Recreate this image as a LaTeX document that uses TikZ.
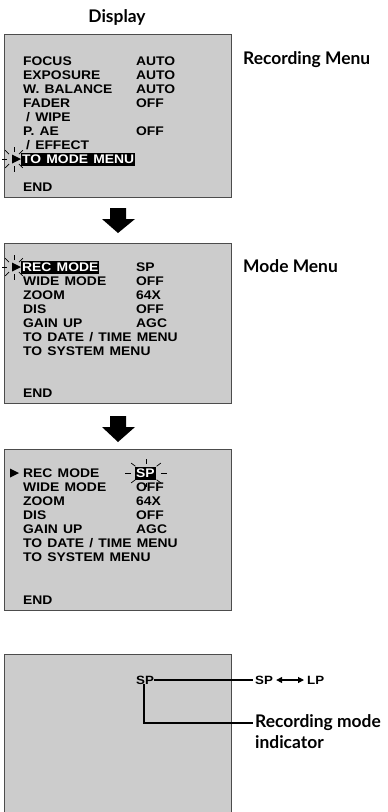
\documentclass[tikz,border=0pt]{standalone}
\usepackage{fontspec}
\setmainfont{Lato}
\newfontfamily\osdfont[FakeStretch=1.11,WordSpace=1.35]{Liberation Sans}
\usetikzlibrary{arrows.meta}
\tikzset{
  screen/.style={draw=black!70, fill=black!20, line width=1.3pt, anchor=north west,
    minimum width=227pt, inner sep=0pt},
  osd/.style={anchor=base west, inner sep=0pt, font=\osdfont\bfseries\fontsize{12.5}{14}\selectfont},
  hl/.style={osd, fill=black, text=white, inner xsep=1pt, inner ysep=2pt},
  ttl/.style={inner sep=0pt, font=\bfseries\fontsize{17.4}{20}\selectfont},
  blockarrow/.style={fill=black},
  ray/.style={draw=black, line width=0.7pt},
  lead/.style={draw=black, line width=1.2pt},
  cursor/.style={fill=black}
}
\begin{document}
\begin{tikzpicture}[x=1pt,y=-1pt]
\useasboundingbox (0,0) rectangle (388,812);
\clip (0,0) rectangle (388,812);

% titles
\node[ttl] (disp) at (117,17) {Display};
\node[ttl, anchor=west] (recmenu) at (243,60) {Recording Menu};
\node[ttl, anchor=west] (modemenu) at (243,266) {Mode Menu};

% ---------- screen 1
\node[screen, minimum height=163pt] (b1) at (4,34) {};
\node[osd] (f1) at (23,65.5) {FOCUS};       \node[osd] (v1) at (136,65.5) {AUTO};
\node[osd] (f2) at (23,79.5) {EXPOSURE};    \node[osd] (v2) at (136,79.5) {AUTO};
\node[osd] (f3) at (23,93.5) {W. BALANCE};  \node[osd] (v3) at (136,93.5) {AUTO};
\node[osd] (f4) at (23,107.5) {FADER};      \node[osd] (v4) at (136,107.5) {OFF};
\node[osd] (f5) at (26,121.5) {/ WIPE};
\node[osd] (f6) at (23,135.5) {P. AE};      \node[osd] (v6) at (136,135.5) {OFF};
\node[osd] (f7) at (26,149.5) {/ EFFECT};
\node[hl]  (f8) at (21,163.5) {TO MODE MENU};
\node[osd] (f9) at (23,191.5) {END};
\begin{scope}[shift={(14,159)}]
  \foreach \a in {45,90,135,180,225,270,315} \draw[ray] (\a:7) -- (\a:12.5);
\end{scope}
\fill[cursor] (12,154.5) -- (12,163.5) -- (21,159) -- cycle;

% arrow 1
\fill[blockarrow] (110,208) -- (126,208) -- (126,219) -- (135,219) -- (118,233) -- (102,219) -- (110,219) -- cycle;

% ---------- screen 2
\node[screen, minimum height=160pt] (b2) at (4,243) {};
\node[hl]  (m1) at (21,271.5) {REC MODE};   \node[osd] (w1) at (136,271.5) {SP};
\node[osd] (m2) at (23,285.5) {WIDE MODE};  \node[osd] (w2) at (136,285.5) {OFF};
\node[osd] (m3) at (23,299.5) {ZOOM};       \node[osd] (w3) at (136,299.5) {64X};
\node[osd] (m4) at (23,313.5) {DIS};        \node[osd] (w4) at (136,313.5) {OFF};
\node[osd] (m5) at (23,327.5) {GAIN UP};    \node[osd] (w5) at (136,327.5) {AGC};
\node[osd] (m6) at (23,341.5) {TO DATE / TIME MENU};
\node[osd] (m7) at (23,355.5) {TO SYSTEM MENU};
\node[osd] (m8) at (23,397.5) {END};
\begin{scope}[shift={(14,267)}]
  \foreach \a in {45,90,135,180,225,270,315} \draw[ray] (\a:7) -- (\a:12.5);
\end{scope}
\fill[cursor] (12,262.5) -- (12,271.5) -- (21,267) -- cycle;

% arrow 2
\fill[blockarrow] (110,416) -- (126,416) -- (126,427) -- (135,427) -- (118,442) -- (102,427) -- (110,427) -- cycle;

% ---------- screen 3
\node[screen, minimum height=161pt] (b3) at (4,449) {};
\fill[cursor] (10,468.5) -- (10,477.5) -- (19,473) -- cycle;
\node[osd] (n1) at (23,477.5) {REC MODE};   \node[hl] (u1) at (135,477.5) {SP};
\node[osd] (n2) at (23,491.5) {WIDE MODE};  \node[osd] (u2) at (136,491.5) {OFF};
\node[osd] (n3) at (23,505.5) {ZOOM};       \node[osd] (u3) at (136,505.5) {64X};
\node[osd] (n4) at (23,519.5) {DIS};        \node[osd] (u4) at (136,519.5) {OFF};
\node[osd] (n5) at (23,533.5) {GAIN UP};    \node[osd] (u5) at (136,533.5) {AGC};
\node[osd] (n6) at (23,547.5) {TO DATE / TIME MENU};
\node[osd] (n7) at (23,561.5) {TO SYSTEM MENU};
\node[osd] (n8) at (23,604.5) {END};
\begin{scope}[shift={(146,473)}]
  \foreach \a in {0,45,90,135,180,225,270,315}
    \draw[ray] (\a:15 and 9.5) -- (\a:21 and 14);
\end{scope}

% ---------- screen 4
\node[screen, minimum height=175pt] (b4) at (4,654) {};
\node[osd, anchor=center, font=\osdfont\bfseries\fontsize{12}{14}\selectfont] (sp4) at (145,680) {SP};
\node[osd, anchor=west, font=\osdfont\bfseries\fontsize{12}{14}\selectfont] (sp5) at (255,680) {SP};
\node[osd, anchor=west, font=\osdfont\bfseries\fontsize{12}{14}\selectfont] (lp5) at (307,680) {LP};
\draw[lead, {Triangle[length=6pt,width=6pt]}-{Triangle[length=6pt,width=6pt]}] ([xshift=3pt]sp5.east) -- ([xshift=-3pt]lp5.west);
\node[ttl, anchor=west] (rm) at (255,723) {Recording mode};
\node[ttl, anchor=west] (ind) at (255,742) {indicator};
\draw[lead] (sp4.east) -- ([xshift=-2pt]sp5.west);
\draw[lead] ([xshift=-1pt]sp4.south) |- ([xshift=-2pt]rm.west);
\end{tikzpicture}
\end{document}
